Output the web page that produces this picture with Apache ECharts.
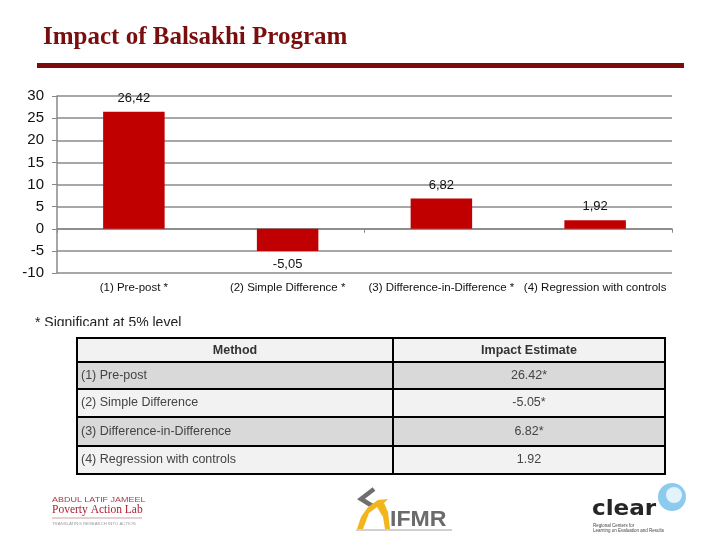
<!DOCTYPE html>
<html><head><meta charset="utf-8">
<script src="https://cdn.jsdelivr.net/npm/echarts@6/dist/echarts.min.js"></script>
<style>html,body{margin:0;padding:0;background:#fff}#c{width:720px;height:540px}</style>
</head><body><div id="c"></div>
<script>
const categories = ['(1) Pre-post *', '(2) Simple Difference *', '(3) Difference-in-Difference *', '(4) Regression with controls'];
const values = [26.42, -5.05, 6.82, 1.92];
const tableHeader = ['Method', 'Impact Estimate'];
const tableMethods = ['(1) Pre-post', '(2) Simple Difference', '(3) Difference-in-Difference', '(4) Regression with controls'];
const tableEstimates = ['26.42*', '-5.05*', '6.82*', '1.92'];
const footnote = '* Significant at 5% level';
const title = 'Impact of Balsakhi Program';

const chart = echarts.init(document.getElementById('c'));
const F = 'Liberation Sans, Arial, sans-serif';

// table graphics
const tx = [77, 393, 665];
const rowTops = [338, 362, 389, 417, 446, 474];
const tableEls = [];
const fills = ['#f2f2f2', '#d9d9d9', '#f2f2f2', '#d9d9d9', '#f2f2f2'];
for (let r = 0; r < 5; r++) {
  tableEls.push({type: 'rect', shape: {x: tx[0], y: rowTops[r], width: tx[2] - tx[0], height: rowTops[r + 1] - rowTops[r]},
    style: {fill: fills[r], stroke: '#000', lineWidth: 2}});
}
tableEls.push({type: 'line', shape: {x1: tx[1], y1: rowTops[0], x2: tx[1], y2: rowTops[5]}, style: {stroke: '#000', lineWidth: 2}});
tableHeader.forEach((h, i) => {
  tableEls.push({type: 'text', style: {text: h, x: (tx[i] + tx[i + 1]) / 2, y: (rowTops[0] + rowTops[1]) / 2 + 1,
    textAlign: 'center', textVerticalAlign: 'middle', font: 'bold 12.5px ' + F, fill: '#333'}});
});
tableMethods.forEach((m, i) => {
  const cy = (rowTops[i + 1] + rowTops[i + 2]) / 2;
  tableEls.push({type: 'text', style: {text: m, x: tx[0] + 4, y: cy, textAlign: 'left', textVerticalAlign: 'middle', font: '12.5px ' + F, fill: '#444'}});
  tableEls.push({type: 'text', style: {text: tableEstimates[i], x: (tx[1] + tx[2]) / 2, y: cy, textAlign: 'center', textVerticalAlign: 'middle', font: '12.5px ' + F, fill: '#444'}});
});

const graphics = [
  {type: 'text', style: {text: title, x: 43, y: 38, textVerticalAlign: 'middle', font: 'bold 25px "Liberation Serif", serif', fill: '#7a0d0d'}},
  {type: 'rect', shape: {x: 37, y: 63, width: 647, height: 5}, style: {fill: '#7b0c0c'}},
  {type: 'text', style: {text: footnote, x: 35, y: 323, textVerticalAlign: 'middle', font: '14px ' + F, fill: '#222'}},
  {type: 'rect', shape: {x: 0, y: 326, width: 720, height: 11}, style: {fill: '#fff'}},
  ...tableEls,
  // PAL logo
  {type: 'text', x: 52, y: 500, scaleX: 1.12, style: {text: 'ABDUL LATIF JAMEEL', x: 0, y: 0, textVerticalAlign: 'middle', font: '8px ' + F, fill: '#a83a4c'}},
  {type: 'text', style: {text: 'Poverty Action Lab', x: 52, y: 510, textVerticalAlign: 'middle', font: '11.5px "Liberation Serif", serif', fill: '#b02030'}},
  {type: 'line', shape: {x1: 52, y1: 518, x2: 142, y2: 518}, style: {stroke: '#c9a0a8', lineWidth: 1}},
  {type: 'text', style: {text: 'TRANSLATING RESEARCH INTO ACTION', x: 52, y: 524, textVerticalAlign: 'middle', font: '4.3px ' + F, fill: '#999'}},
  // IFMR logo
  {type: 'polyline', shape: {points: [[374, 489], [361, 499], [374, 507]]}, style: {stroke: '#6f6f6f', lineWidth: 4.5, fill: null}},
  {type: 'polygon', shape: {points: [[357, 529], [361, 517], [368, 507], [378, 500], [388, 499], [384, 503], [388, 512], [390, 529], [385, 529], [383, 517], [377, 507], [369, 513], [363, 529]]}, style: {fill: '#f2b51c'}},
  {type: 'text', x: 390, y: 520, scaleX: 1.05, style: {text: 'IFMR', x: 0, y: 0, textVerticalAlign: 'middle', font: 'bold 22px ' + F, fill: '#6a6a6a'}},
  {type: 'rect', shape: {x: 356, y: 529, width: 96, height: 2}, style: {fill: '#d0d0d0'}},
  // clear logo
  {type: 'text', x: 592, y: 510, scaleX: 1.1, style: {text: 'clear', x: 0, y: 0, textVerticalAlign: 'middle', font: 'bold 21px "DejaVu Sans", sans-serif', fill: '#262626'}},
  {type: 'circle', shape: {cx: 672, cy: 497, r: 14}, style: {fill: '#8ccbee'}},
  {type: 'circle', shape: {cx: 674, cy: 495, r: 8}, style: {fill: '#e2f3fc'}},
  {type: 'text', style: {text: 'Regional Centers for\nLearning on Evaluation and Results', x: 593, y: 528, textVerticalAlign: 'middle', font: '4.5px ' + F, fill: '#444', lineHeight: 5}}
];

chart.setOption({
  animation: false,
  backgroundColor: '#fff',
  grid: {left: 57, right: 48, top: 96, bottom: 267},
  xAxis: [
    {type: 'category', data: categories, position: 'bottom',
      axisLine: {onZero: true, lineStyle: {color: '#888', width: 1.5}},
      axisTick: {show: true, length: 4, lineStyle: {color: '#888'}},
      axisLabel: {show: false}, splitLine: {show: false}},
    {type: 'category', data: categories, position: 'bottom',
      axisLine: {show: false, onZero: false}, axisTick: {show: false},
      axisLabel: {show: true, interval: 0, margin: 9, fontSize: 11.5, fontFamily: F, color: '#111'}}
  ],
  yAxis: {type: 'value', min: -10, max: 30, interval: 5,
    axisLine: {show: true, lineStyle: {color: '#888', width: 1.5}},
    axisTick: {show: true, length: 5, lineStyle: {color: '#888'}},
    axisLabel: {fontSize: 15, fontFamily: F, color: '#111', margin: 13},
    splitLine: {lineStyle: {color: '#8a8a8a', width: 1.5}}},
  series: [{type: 'bar', data: values, xAxisIndex: 0, barWidth: '40%',
    itemStyle: {color: '#c00000'},
    label: {show: true, position: 'outside', distance: 7, fontSize: 13, fontFamily: F, color: '#111',
      formatter: p => p.value.toFixed(2).replace('.', ',')}}],
  graphic: graphics
});
</script></body></html>
